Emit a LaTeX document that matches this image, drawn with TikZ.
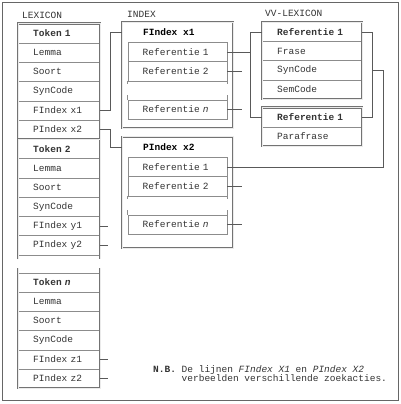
\documentclass[tikz,border=0pt]{standalone}
\usepackage{fontspec}
\setmonofont{Liberation Mono}
\def\rowh{19.25}
\def\txtskip{15pt}

\begin{document}
\begin{tikzpicture}[x=1pt, y=-1pt,
    nodes = {font=\ttfamily\fontsize{9.5}{9.5}\selectfont, text=black!80},
    row/.style = {draw=black!45, line width=0.4pt, anchor=north west,
      minimum height=\rowh pt, inner xsep=0pt, inner ysep=0pt, align=left,
      execute at begin node={\hspace*{\txtskip}}},
    boxframe/.style = {draw=black!55, double=black!8, double distance=0.9pt, line width=0.6pt},
    rowline/.style = {draw=black!45, line width=0.4pt},
    hdr/.style = {anchor=west, inner sep=0pt, text=black,
      font=\ttfamily\bfseries\fontsize{9.5}{9.5}\selectfont},
    lbl/.style = {anchor=west, inner sep=0pt},
    link/.style = {draw=black!65, line width=0.5pt}]
  \useasboundingbox (0,0) rectangle (400,404);
  \draw[black!60, line width=0.8pt] (2,2) rectangle (398,400); % page frame

  % titles
  \node[lbl] (lexlbl) at (22,15) {LEXICON};
  \node[lbl] (idxlbl) at (127,14) {INDEX};
  \node[lbl] (vvlbl) at (265,13) {VV-LEXICON};

  % LEXICON: token 1 and token 2
  \foreach \txt [count=\i] in {\textbf{Token 1}, Lemma, Soort, SynCode, FIndex x1, PIndex x2,
      \textbf{Token 2}, Lemma, Soort, SynCode, FIndex y1, PIndex y2}
    \node[row, text width=82pt] (lexa-\i) at (18,{23.5+(\i-1)*\rowh}) {\txt};
  \draw[boxframe] ([yshift=-4.5pt]lexa-12.south west) |- (lexa-1.north east)
    -- ([yshift=-4.5pt]lexa-12.south east);
  \draw[boxframe] (lexa-7.north west) -- (lexa-7.north east);

  % LEXICON: token n
  \foreach \txt [count=\i] in {\textbf{Token \textit{n}}, Lemma, Soort, SynCode, FIndex z1, PIndex z2}
    \node[row, text width=82pt] (lexn-\i) at (18,{272.5+(\i-1)*\rowh}) {\txt};
  \draw[boxframe] ([yshift=4.5pt]lexn-1.north west) |- (lexn-6.south east)
    -- ([yshift=4.5pt]lexn-1.north east);

  % INDEX: FIndex x1
  \node[boxframe, anchor=north west, minimum width=111pt, minimum height=106pt] (fx) at (122,22) {};
  \node[hdr] (fx-h) at (143,32) {FIndex x1};
  \foreach \txt [count=\i] in {Referentie 1, Referentie 2}
    \node[row, text width=99.5pt] (fx-\i) at (127.5,{42+(\i-1)*\rowh}) {\txt};
  \node[row, text width=99.5pt] (fx-n) at (127.5,99.5) {Referentie \textit{n}};

  % INDEX: PIndex x2
  \node[boxframe, anchor=north west, minimum width=111pt, minimum height=111.5pt] (px) at (122,136.5) {};
  \node[hdr] (px-h) at (143,147) {PIndex x2};
  \foreach \txt [count=\i] in {Referentie 1, Referentie 2}
    \node[row, text width=99.5pt] (px-\i) at (127.5,{157+(\i-1)*\rowh}) {\txt};
  \node[row, text width=99.5pt] (px-n) at (127.5,214.5) {Referentie \textit{n}};

  % open ends of the reference lists
  \foreach \b in {fx, px}
    \foreach \c in {west, east} {
      \draw[rowline] (\b-2.south \c) -- ++(0,3.5);
      \draw[rowline] (\b-n.north \c) -- ++(0,-5);
    }

  % VV-LEXICON
  \foreach \txt [count=\i] in {\textbf{Referentie 1}, Frase, SynCode, SemCode}
    \node[row, text width=100pt] (vva-\i) at (262,{22+(\i-1)*\rowh}) {\txt};
  \draw[boxframe] (vva-1.north west) rectangle (vva-4.south east);
  \foreach \txt [count=\i] in {\textbf{Referentie 1}, Parafrase}
    \node[row, text width=100pt] (vvb-\i) at (262,{107.5+(\i-1)*\rowh}) {\txt};
  \draw[boxframe] (vvb-1.north west) rectangle (vvb-2.south east);

  % lines from the lexicon to the index
  \draw[link] (lexa-5.east) -- ++(10,0) |- (fx.west |- fx-h);
  \draw[link] (lexa-6.east) -- ++(10,0) |- (px.west |- px-h);
  \foreach \r in {lexa-11, lexa-12, lexn-5, lexn-6}
    \draw[link] (\r.east) -- ++(8,0);

  % lines from the index to the vv-lexicon
  \coordinate (busl) at ([xshift=-12pt]vva-1.west);
  \coordinate (busr) at ([xshift=10pt]vva-1.east);
  \coordinate (busrr) at ([xshift=11pt]busr);
  \draw[link] (vva-1.west) -- (busl) |- (vvb-1.west);
  \draw[link] (fx-1.east) -- (fx-1.east -| busl);
  \draw[link] (vva-1.east) -- (busr) |- (vvb-1.east);
  \draw[link] (px-1.east) -| (busrr |- vva-3) -- (busr |- vva-3);
  \foreach \r in {fx-2, fx-n, px-2, px-n}
    \draw[link] (\r.east) -- ++(15,0);

  % note
  \node[anchor=north west, inner sep=0pt, align=left] (nb) at (153,365)
    {\textbf{N.B.} De lijnen \textit{FIndex X1} en \textit{PIndex X2}\\
     \phantom{\textbf{N.B.} }verbeelden verschillende zoekacties.};
\end{tikzpicture}
\end{document}
